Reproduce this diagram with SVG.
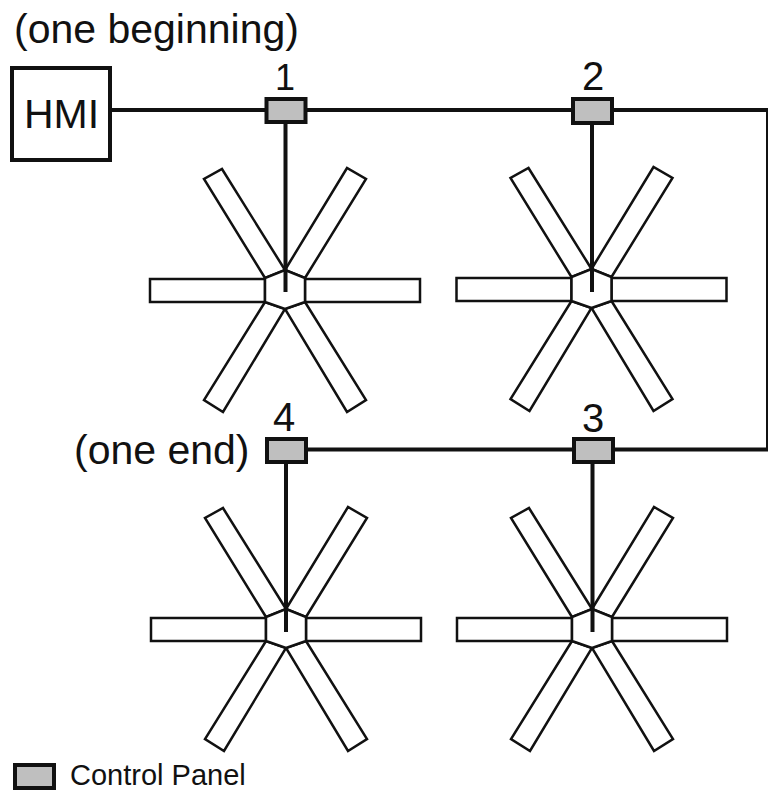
<svg xmlns="http://www.w3.org/2000/svg" width="768" height="791" viewBox="0 0 768 791">
<style>
text{font-family:"Liberation Sans",Arial,sans-serif;fill:#111}
.l{font-size:41px}
.n{font-size:40px;text-anchor:middle}
.b{fill:#fff;stroke:#111;stroke-width:2.500;stroke-linejoin:miter}
.w{fill:none;stroke:#111;stroke-width:4}
.t{fill:none;stroke:#111;stroke-width:2}
.p{fill:#bfbfbf;stroke:#111;stroke-width:4}
</style>
<defs>
<g id="fan">
<path class="b" d="M150 279H265V302H150Z"/>
<path class="b" d="M305 279H420V302H305Z"/>
<path class="b" d="M265 278L204 179L222 169L285 270Z"/>
<path class="b" d="M305 278L366 179L347 168L285 270Z"/>
<path class="b" d="M265 302L204 400L223 412L285 309Z"/>
<path class="b" d="M305 302L366 400L347 412L285 309Z"/>
<path class="b" d="M285 270L305 278V302L285 309L265 302V278Z"/>
</g>
</defs>
<rect width="768" height="791" fill="#fff"/>
<g id="fan1"><use href="#fan"/></g>
<g id="fan2"><use href="#fan" x="306.500" y="-1"/></g>
<g id="fan3"><use href="#fan" x="307" y="339"/></g>
<g id="fan4"><use href="#fan" x="1" y="339"/></g>
<g id="connectors">
<path class="w" d="M111 110H267M305 110H573M612 110H768M768 449.500H613M574 449.500H306"/>
<path class="t" d="M767 110V450"/>
<path class="w" d="M285.500 123V292M592 123V292M286 463V632M592.500 463V632"/>
</g>
<g id="hmi"><rect x="12" y="68" width="98" height="92" fill="#fff" stroke="#111" stroke-width="4"/><text x="24" y="128" font-size="41">HMI</text></g>
<g id="panel1"><rect class="p" x="266.500" y="99" width="39" height="23"/><text class="n" x="285" y="90" style="font-size:36px">1</text></g>
<g id="panel2"><rect class="p" x="573" y="99" width="39" height="24"/><text class="n" x="593" y="90">2</text></g>
<g id="panel3"><rect class="p" x="574" y="439" width="39" height="23"/><text class="n" x="593" y="432">3</text></g>
<g id="panel4"><rect class="p" x="267" y="439" width="39" height="23"/><text class="n" x="284" y="431">4</text></g>
<g id="label-begin"><text class="l" x="14" y="43">(one beginning)</text></g>
<g id="label-end"><text class="l" x="74" y="464">(one end)</text></g>
<g id="legend"><rect class="p" x="15" y="765" width="39" height="23"/><text x="70" y="785" font-size="29">Control Panel</text></g>
</svg>
